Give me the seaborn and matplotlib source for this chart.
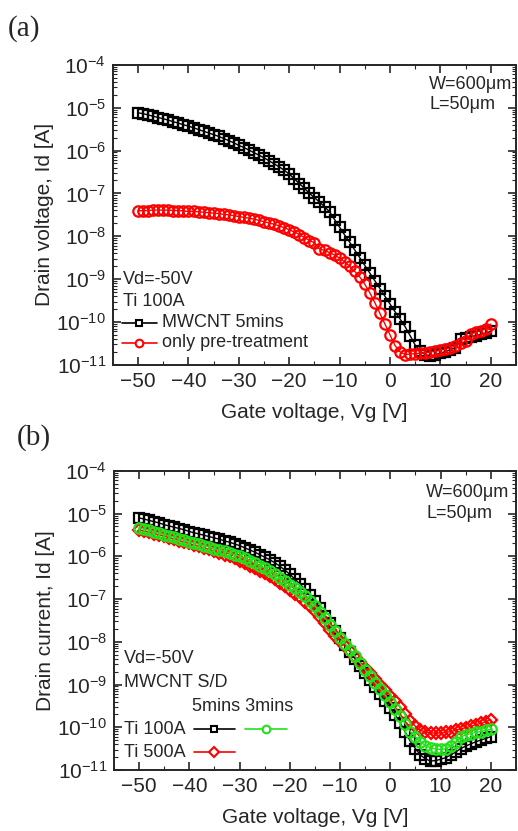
import numpy as np
import pandas as pd
import matplotlib
matplotlib.use("Agg")
import matplotlib.pyplot as plt
import seaborn as sns
from matplotlib.lines import Line2D
from matplotlib.ticker import LogLocator, MultipleLocator, NullFormatter

sns.set_style("ticks")
plt.rcParams['font.family'] = ['Liberation Sans', 'DejaVu Sans']
plt.rcParams['mathtext.fontset'] = 'custom'
plt.rcParams['mathtext.rm'] = 'Liberation Sans'
plt.rcParams['mathtext.default'] = 'regular'

# gate voltage sweep, 1 V steps
vg = list(range(-50, 21))

# --- (a) log10 of drain current ---
a_mwcnt_5min = [
    -5.12, -5.14, -5.17, -5.20, -5.23, -5.26, -5.29, -5.33, -5.36, -5.40,
    -5.43, -5.47, -5.51, -5.55, -5.59, -5.63, -5.67, -5.72, -5.77, -5.82,
    -5.88, -5.93, -5.99, -6.05, -6.11, -6.17, -6.24, -6.31, -6.38, -6.46,
    -6.55, -6.66, -6.77, -6.88, -7.00, -7.10, -7.20, -7.31, -7.43, -7.61,
    -7.79, -7.97, -8.14, -8.32, -8.50, -8.68, -8.86, -9.04, -9.22, -9.40,
    -9.58, -9.76, -9.93, -10.11, -10.32, -10.54, -10.68, -10.76, -10.79, -10.77,
    -10.73, -10.69, -10.65, -10.60, -10.40, -10.38, -10.35, -10.32, -10.29, -10.26,
    -10.22]
a_pretreat = [
    -7.41, -7.40, -7.40, -7.39, -7.39, -7.39, -7.39, -7.40, -7.40, -7.41,
    -7.42, -7.42, -7.43, -7.44, -7.45, -7.46, -7.47, -7.49, -7.50, -7.52,
    -7.54, -7.56, -7.58, -7.60, -7.63, -7.66, -7.69, -7.72, -7.76, -7.80,
    -7.85, -7.90, -7.96, -8.03, -8.10, -8.15, -8.30, -8.33, -8.38, -8.44,
    -8.51, -8.60, -8.70, -8.82, -8.95, -9.12, -9.32, -9.55, -9.80, -10.05,
    -10.30, -10.55, -10.70, -10.76, -10.75, -10.74, -10.73, -10.72, -10.70, -10.68,
    -10.66, -10.63, -10.60, -10.56, -10.50, -10.45, -10.28, -10.24, -10.20, -10.16,
    -10.05]

# --- (b) ---
b_ti100_5min = [
    -5.10, -5.13, -5.16, -5.19, -5.22, -5.26, -5.29, -5.32, -5.35, -5.38,
    -5.42, -5.45, -5.48, -5.51, -5.54, -5.57, -5.60, -5.64, -5.67, -5.71,
    -5.75, -5.80, -5.85, -5.90, -5.96, -6.02, -6.08, -6.15, -6.23, -6.32,
    -6.42, -6.53, -6.65, -6.77, -6.90, -7.05, -7.22, -7.40, -7.57, -7.74,
    -7.90, -8.07, -8.23, -8.40, -8.56, -8.73, -8.89, -9.06, -9.22, -9.39,
    -9.55, -9.72, -9.90, -10.12, -10.33, -10.50, -10.65, -10.74, -10.79, -10.78,
    -10.75, -10.71, -10.65, -10.58, -10.50, -10.44, -10.39, -10.34, -10.30, -10.26,
    -10.22]
b_ti100_3min = [
    -5.33, -5.36, -5.39, -5.42, -5.46, -5.49, -5.52, -5.55, -5.59, -5.62,
    -5.66, -5.69, -5.72, -5.75, -5.78, -5.82, -5.85, -5.88, -5.92, -5.96,
    -6.00, -6.05, -6.10, -6.16, -6.22, -6.28, -6.35, -6.42, -6.50, -6.58,
    -6.66, -6.74, -6.83, -6.93, -7.04, -7.16, -7.30, -7.45, -7.60, -7.75,
    -7.90, -8.04, -8.19, -8.34, -8.50, -8.66, -8.81, -8.96, -9.10, -9.25,
    -9.40, -9.57, -9.74, -9.92, -10.10, -10.23, -10.34, -10.43, -10.48, -10.51,
    -10.52, -10.50, -10.44, -10.35, -10.23, -10.18, -10.15, -10.12, -10.10, -10.07,
    -10.05]
b_ti500_5min = [
    -5.38, -5.41, -5.44, -5.47, -5.50, -5.53, -5.56, -5.60, -5.63, -5.67,
    -5.70, -5.74, -5.77, -5.81, -5.84, -5.88, -5.92, -5.96, -6.00, -6.05,
    -6.10, -6.16, -6.22, -6.28, -6.34, -6.40, -6.47, -6.54, -6.62, -6.70,
    -6.78, -6.87, -6.96, -7.06, -7.17, -7.28, -7.42, -7.57, -7.72, -7.86,
    -7.98, -8.10, -8.22, -8.35, -8.48, -8.61, -8.74, -8.87, -9.00, -9.13,
    -9.26, -9.39, -9.53, -9.68, -9.85, -9.98, -10.07, -10.11, -10.13, -10.14,
    -10.13, -10.12, -10.10, -10.07, -10.04, -10.01, -9.98, -9.94, -9.91, -9.87,
    -9.82]

RED = '#ff0000'
GREEN = '#22e01a'
FS_TXT = 13


def style_axes(ax, ylabel):
    ax.set_yscale('log')
    ax.set_ylim(1e-11, 1e-4)
    ax.set_xlim(-55, 25)
    ax.xaxis.set_major_locator(MultipleLocator(10))
    ax.xaxis.set_minor_locator(MultipleLocator(5))
    ax.yaxis.set_major_locator(LogLocator(base=10, numticks=20))
    ax.yaxis.set_minor_locator(LogLocator(base=10, subs=np.arange(2, 10), numticks=20))
    ax.yaxis.set_minor_formatter(NullFormatter())
    ax.tick_params(which='both', direction='in', top=True, right=True, labelsize=15)
    ax.tick_params(which='major', length=6, width=1.2, pad=5)
    ax.tick_params(which='minor', length=3, width=0.8)
    for s in ax.spines.values():
        s.set_linewidth(1.4)
        s.set_visible(True)
    ax.set_xlabel('Gate voltage, Vg [V]', fontsize=15, labelpad=9)
    ax.set_ylabel(ylabel, fontsize=15, labelpad=2)


def draw(ax, y, color, marker, ms):
    df = pd.DataFrame({'Vg': vg, 'Id': np.power(10.0, y)})
    sns.lineplot(data=df, x='Vg', y='Id', ax=ax, color=color, marker=marker,
                 markersize=ms, markerfacecolor='none', markeredgecolor=color,
                 markeredgewidth=1.6, linewidth=1.0, estimator=None, legend=False)


def key(ax, x0, x1, yk, c, m, ms):
    ax.add_line(Line2D([x0, x1], [yk, yk], transform=ax.transAxes, color=c, lw=1.2))
    ax.add_line(Line2D([(x0 + x1) / 2], [yk], transform=ax.transAxes, color=c,
                       marker=m, markersize=ms, markerfacecolor='white',
                       markeredgecolor=c, markeredgewidth=1.5))


def note(ax, x, y, s):
    ax.text(x, y, s, transform=ax.transAxes, fontsize=FS_TXT, va='center')


fig = plt.figure(figsize=(5.18, 8.31), dpi=100)
ax1 = fig.add_axes([0.218, 0.561, 0.778, 0.361])
ax2 = fig.add_axes([0.220, 0.0734, 0.776, 0.360])

# panel (a)
draw(ax1, a_mwcnt_5min, 'black', 's', 7)
draw(ax1, a_pretreat, RED, 'o', 7.5)
style_axes(ax1, 'Drain voltage, Id [A]')
note(ax1, 0.785, 0.933, 'W=600μm')
note(ax1, 0.785, 0.867, 'L=50μm')
note(ax1, 0.025, 0.283, 'Vd=-50V')
note(ax1, 0.025, 0.212, 'Ti 100A')
key(ax1, 0.022, 0.109, 0.140, 'black', 's', 5)
key(ax1, 0.022, 0.109, 0.073, RED, 'o', 5.5)
note(ax1, 0.121, 0.140, 'MWCNT 5mins')
note(ax1, 0.121, 0.073, 'only pre-treatment')

# panel (b)
draw(ax2, b_ti100_5min, 'black', 's', 7)
draw(ax2, b_ti500_5min, RED, 'D', 6)
draw(ax2, b_ti100_3min, GREEN, 'o', 7.5)
style_axes(ax2, 'Drain current, Id [A]')
note(ax2, 0.777, 0.927, 'W=600μm')
note(ax2, 0.777, 0.857, 'L=50μm')
note(ax2, 0.025, 0.373, 'Vd=-50V')
note(ax2, 0.025, 0.292, 'MWCNT S/D')
note(ax2, 0.194, 0.213, '5mins 3mins')
note(ax2, 0.025, 0.137, 'Ti 100A')
note(ax2, 0.025, 0.060, 'Ti 500A')
key(ax2, 0.200, 0.300, 0.137, 'black', 's', 5)
key(ax2, 0.325, 0.430, 0.137, GREEN, 'o', 5.5)
key(ax2, 0.200, 0.300, 0.060, RED, 'D', 5)

fig.text(0.015, 0.966, '(a)', fontsize=21, family=['Liberation Serif'], va='center')
fig.text(0.032, 0.474, '(b)', fontsize=21, family=['Liberation Serif'], va='center')

fig.savefig('out.png', dpi=100)
